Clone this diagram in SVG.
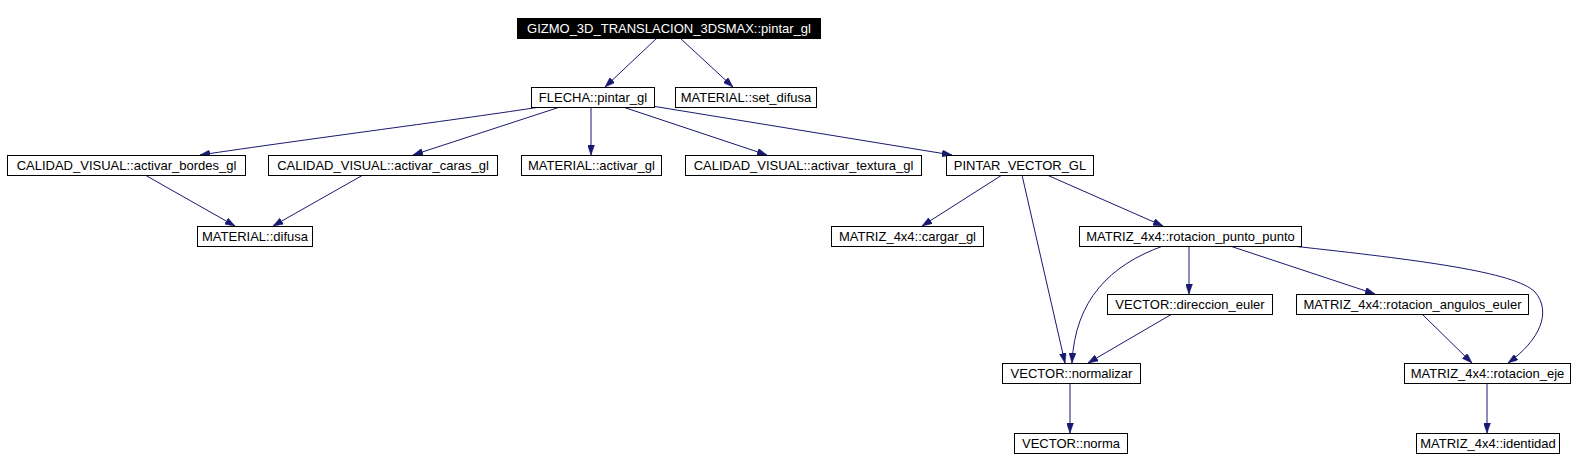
<svg xmlns="http://www.w3.org/2000/svg" width="1581" height="470" viewBox="0 0 1581 470">
<style>
.n rect{fill:#ffffff;stroke:#000000;stroke-width:1}
.n text{font-family:"Liberation Sans",Arial,Helvetica,sans-serif;font-size:13px;fill:#000000;text-anchor:middle}
#n0 rect{fill:#000000}
#n0 text{fill:#ffffff}
.e path{fill:none;stroke:#191970;stroke-width:1;marker-end:url(#ah)}
</style>
<defs>
<marker id="ah" viewBox="0 0 10 7" refX="10" refY="3.5" markerWidth="10" markerHeight="7" orient="auto" markerUnits="userSpaceOnUse">
<path d="M0,0 L10,3.5 L0,7 z" fill="#191970" stroke="#191970" stroke-width="0.5"/>
</marker>
</defs>
<rect width="1581" height="470" fill="#ffffff"/>
<g id="edges" class="e">
<path d="M657,38 L605,87"/>
<path d="M680,38 L733,87"/>
<path d="M540,107 C470,118 300,140 200,155"/>
<path d="M560,107 L413,155"/>
<path d="M591,107 L591,155"/>
<path d="M623,107 L767,155"/>
<path d="M652,106 L952,155"/>
<path d="M145,175 L235,226"/>
<path d="M363,175 L273,226"/>
<path d="M1002,175 L922,226"/>
<path d="M1022,175 L1065,363"/>
<path d="M1047,175 L1163,226"/>
<path d="M1163,246 C1110,265 1075,300 1072,363"/>
<path d="M1189,246 L1189,294"/>
<path d="M1230,246 L1375,294"/>
<path d="M1292,246 C1420,260 1515,272 1535,292 C1552,312 1540,340 1508,363"/>
<path d="M1172,314 L1088,363"/>
<path d="M1422,314 L1472,363"/>
<path d="M1070,383 L1070,433"/>
<path d="M1487,383 L1487,433"/>
</g>
<g id="n0" class="n"><rect x="517.5" y="18.5" width="303" height="20"/><text x="669" y="33">GIZMO_3D_TRANSLACION_3DSMAX::pintar_gl</text></g>
<g id="n1" class="n"><rect x="531.5" y="87.5" width="123" height="20"/><text x="593" y="102">FLECHA::pintar_gl</text></g>
<g id="n2" class="n"><rect x="675.5" y="87.5" width="141" height="20"/><text x="746" y="102">MATERIAL::set_difusa</text></g>
<g id="n3" class="n"><rect x="7.5" y="155.5" width="238" height="20"/><text x="126.5" y="170">CALIDAD_VISUAL::activar_bordes_gl</text></g>
<g id="n4" class="n"><rect x="268.5" y="155.5" width="229" height="20"/><text x="383" y="170">CALIDAD_VISUAL::activar_caras_gl</text></g>
<g id="n5" class="n"><rect x="521.5" y="155.5" width="140" height="20"/><text x="591.5" y="170">MATERIAL::activar_gl</text></g>
<g id="n6" class="n"><rect x="685.5" y="155.5" width="236" height="20"/><text x="803.5" y="170">CALIDAD_VISUAL::activar_textura_gl</text></g>
<g id="n7" class="n"><rect x="946.5" y="155.5" width="147" height="20"/><text x="1020" y="170">PINTAR_VECTOR_GL</text></g>
<g id="n8" class="n"><rect x="197.5" y="226.5" width="115" height="20"/><text x="255" y="241">MATERIAL::difusa</text></g>
<g id="n9" class="n"><rect x="831.5" y="226.5" width="152" height="20"/><text x="907.5" y="241">MATRIZ_4x4::cargar_gl</text></g>
<g id="n10" class="n"><rect x="1079.5" y="226.5" width="222" height="20"/><text x="1190.5" y="241">MATRIZ_4x4::rotacion_punto_punto</text></g>
<g id="n11" class="n"><rect x="1107.5" y="294.5" width="165" height="20"/><text x="1190" y="309">VECTOR::direccion_euler</text></g>
<g id="n12" class="n"><rect x="1296.5" y="294.5" width="232" height="20"/><text x="1412.5" y="309">MATRIZ_4x4::rotacion_angulos_euler</text></g>
<g id="n13" class="n"><rect x="1002.5" y="363.5" width="138" height="20"/><text x="1071.5" y="378">VECTOR::normalizar</text></g>
<g id="n14" class="n"><rect x="1404.5" y="363.5" width="166" height="20"/><text x="1487.5" y="378">MATRIZ_4x4::rotacion_eje</text></g>
<g id="n15" class="n"><rect x="1014.5" y="433.5" width="113" height="20"/><text x="1071" y="448">VECTOR::norma</text></g>
<g id="n16" class="n"><rect x="1416.5" y="433.5" width="143" height="20"/><text x="1488" y="448">MATRIZ_4x4::identidad</text></g>
</svg>
